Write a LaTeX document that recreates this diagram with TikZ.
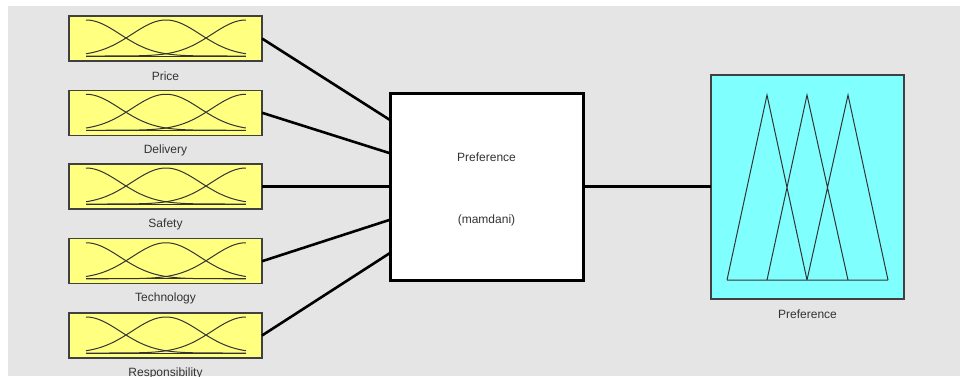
\documentclass[tikz,border=0pt]{standalone}
\usepackage{fontspec}
\setmainfont{Liberation Sans}
\usetikzlibrary{calc}
\definecolor{panelgrey}{HTML}{E5E5E5}
\definecolor{mfyellow}{HTML}{FFFF80}
\definecolor{mfcyan}{HTML}{80FFFF}
\definecolor{edgegrey}{HTML}{404040}
\definecolor{txtgrey}{HTML}{333333}
\tikzset{
  inbox/.style={draw=edgegrey, line width=1.3pt, fill=mfyellow, rectangle,
    minimum width=193pt, minimum height=45pt, inner sep=0pt, outer sep=0pt},
  fisbox/.style={draw=black, line width=3pt, fill=white, rectangle,
    minimum width=193pt, minimum height=187pt, inner sep=0pt, outer sep=0pt},
  outbox/.style={draw=edgegrey, line width=2pt, fill=mfcyan, rectangle,
    minimum width=193pt, minimum height=224pt, inner sep=0pt, outer sep=0pt},
  lbl/.style={text=txtgrey, font=\fontsize{12}{14}\selectfont, inner sep=0pt},
  conn/.style={draw=black, line width=2.6pt},
  mfcurve/.style={draw=txtgrey, line width=1pt},
}
\begin{document}
\begin{tikzpicture}[x=1pt, y=-1pt]
  \useasboundingbox (0,0) rectangle (960,376);
  \fill[panelgrey] (8,6) rectangle (960,376);

  % input variables: box with three Gaussian membership functions
  \foreach \nm/\txt/\yc in {price/Price/38.5, delivery/Delivery/112.75,
      safety/Safety/186.5, technology/Technology/261.25,
      responsibility/Responsibility/335.5}{
    \node[inbox] (\nm) at (165.5,\yc) {};
    \node[lbl] (\nm-label) at (165.5,\yc+37.5) {\txt};
    \begin{scope}[shift={(86,\yc+17.5)}]
      \draw[mfcurve] (0,0) -- (160,0);
      \foreach \c in {0,0.5,1}{
        \draw[mfcurve] plot[domain=0:1, samples=80, smooth]
          ({160*\x}, {-36*exp(-((\x-\c)^2)/0.0902)});
      }
    \end{scope}
  }

  % inference system
  \node[fisbox] (fis) at (486.5,186.5) {};
  \node[lbl] (fis-name) at (486.5,157) {Preference};
  \node[lbl] (fis-type) at (486.5,220) {(mamdani)};

  % output variable: box with three triangular membership functions
  \node[outbox] (out) at (807.5,187) {};
  \node[lbl] (out-label) at (807.5,314) {Preference};
  \draw[mfcurve, line join=miter]
    (727,280) -- (767,95) -- (807,280)
    (767,280) -- (807,95) -- (848,280)
    (807,280) -- (848,95) -- (888,280)
    (727,280) -- (888,280);

  % connectors
  \draw[conn] (price.east) -- ([yshift=66.5pt]fis.west);
  \draw[conn] (delivery.east) -- ([yshift=33.25pt]fis.west);
  \draw[conn] (safety.east) -- (fis.west);
  \draw[conn] (technology.east) -- ([yshift=-33.25pt]fis.west);
  \draw[conn] (responsibility.east) -- ([yshift=-66.5pt]fis.west);
  \draw[conn] (fis.east) -- (fis.east -| out.west);

  % redraw box outlines over connector ends
  \draw[draw=black, line width=3pt] (fis.north west) rectangle (fis.south east);
\end{tikzpicture}
\end{document}
